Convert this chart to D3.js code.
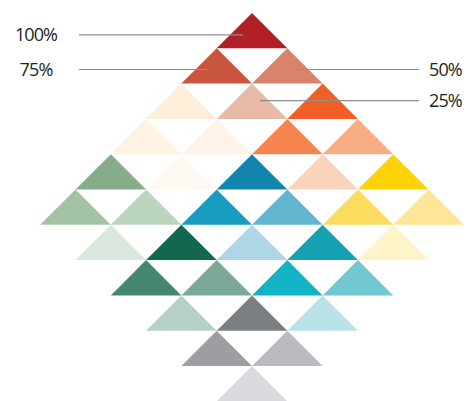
<html>
    <head>
        <script src="https://d3js.org/d3.v7.min.js"></script>
        <style>
            body { margin: 0; background: #fff; }
            .label {
                font-family: "Open Sans", sans-serif;
                font-size: 18px;
                letter-spacing: -0.9px;
                fill: #231f20;
            }
        </style>
    </head>
    <body>
        <svg id="chart" width=467 height=401></svg>
        <script>
            // one entry per triangle: row (top = 0), column inside the row, colour
            const cellRow = [0, 1, 1, 2, 2, 2, 3, 3, 3, 3, 4, 4, 4, 4, 4,
                             5, 5, 5, 5, 5, 5, 6, 6, 6, 6, 6, 7, 7, 7, 7,
                             8, 8, 8, 9, 9, 10];
            const cellCol = [0, 0, 1, 0, 1, 2, 0, 1, 2, 3, 0, 1, 2, 3, 4,
                             0, 1, 2, 3, 4, 5, 1, 2, 3, 4, 5, 2, 3, 4, 5,
                             3, 4, 5, 4, 5, 5];
            const cellColor = [
                '#b31f26',
                '#c9543f', '#d9836b',
                '#fdefd7', '#e8b9a7', '#ef5f26',
                '#fcf3e2', '#fef5e8', '#f5844f', '#f9ad85',
                '#86ad89', '#fff9f4', '#1285ae', '#fbd3bb', '#fdd308',
                '#a2c3a4', '#bcd5be', '#189cc0', '#63b4cf', '#fbdc5e', '#fde697',
                '#dbe7dd', '#11684e', '#add7e6', '#15a3b3', '#fef3c9',
                '#45866e', '#7ca897', '#12b3c4', '#72c7d2',
                '#b4d0c7', '#7b7f82', '#b9e2e7',
                '#9d9ea1', '#babbbe',
                '#d9dade'
            ];

            // legend labels and the triangle each one points at
            const labelText = ['100%', '75%', '50%', '25%'];
            const labelRow = [0, 1, 1, 2];
            const labelCol = [0, 0, 1, 1];
            const labelSide = ['left', 'left', 'right', 'right'];

            const svg = d3.select('svg#chart');

            // x: horizontal offset (2*col - row) in half-triangle units, y: row -> base line
            const xScale = d3.scaleLinear().domain([-5, 5]).range([252 - 5 * 35.3, 252 + 5 * 35.3]);
            const yScale = d3.scaleLinear().domain([0, 10]).range([48.3, 401.3]);
            const half = xScale(1) - xScale(0);
            const h = yScale(1) - yScale(0);

            const cells = cellRow.map((r, i) => ({row: r, col: cellCol[i], color: cellColor[i]}));
            const cx = d => xScale(2 * d.col - d.row);

            svg.append('g')
                .selectAll('path')
                .data(cells)
                .join('path')
                .attr('d', d => {
                    const x = cx(d), b = yScale(d.row);
                    return `M${x - half},${b}L${x},${b - h}L${x + half},${b}Z`;
                })
                .attr('fill', d => d.color);

            // leader lines + labels
            const lift = [0.38, 0.4, 0.4, 0.52];
            const labels = labelText.map((t, i) => ({text: t, row: labelRow[i], col: labelCol[i], side: labelSide[i], lift: lift[i]}));

            const lg = svg.append('g');
            labels.forEach(d => {
                const x = cx(d);
                const y = yScale(d.row) - h * d.lift;
                const left = d.side == 'left';
                lg.append('line')
                    .attr('x1', left ? 79 : x + 8)
                    .attr('x2', left ? x - 9 : 419)
                    .attr('y1', y)
                    .attr('y2', y)
                    .attr('stroke', '#8d8f91')
                    .attr('stroke-width', 1.2);
                lg.append('text')
                    .attr('class', 'label')
                    .attr('x', left ? 36 : 429)
                    .attr('y', y)
                    .attr('dy', '0.36em')
                    .attr('text-anchor', left ? 'middle' : 'start')
                    .text(d.text);
            });
        </script>
    </body>
</html>
